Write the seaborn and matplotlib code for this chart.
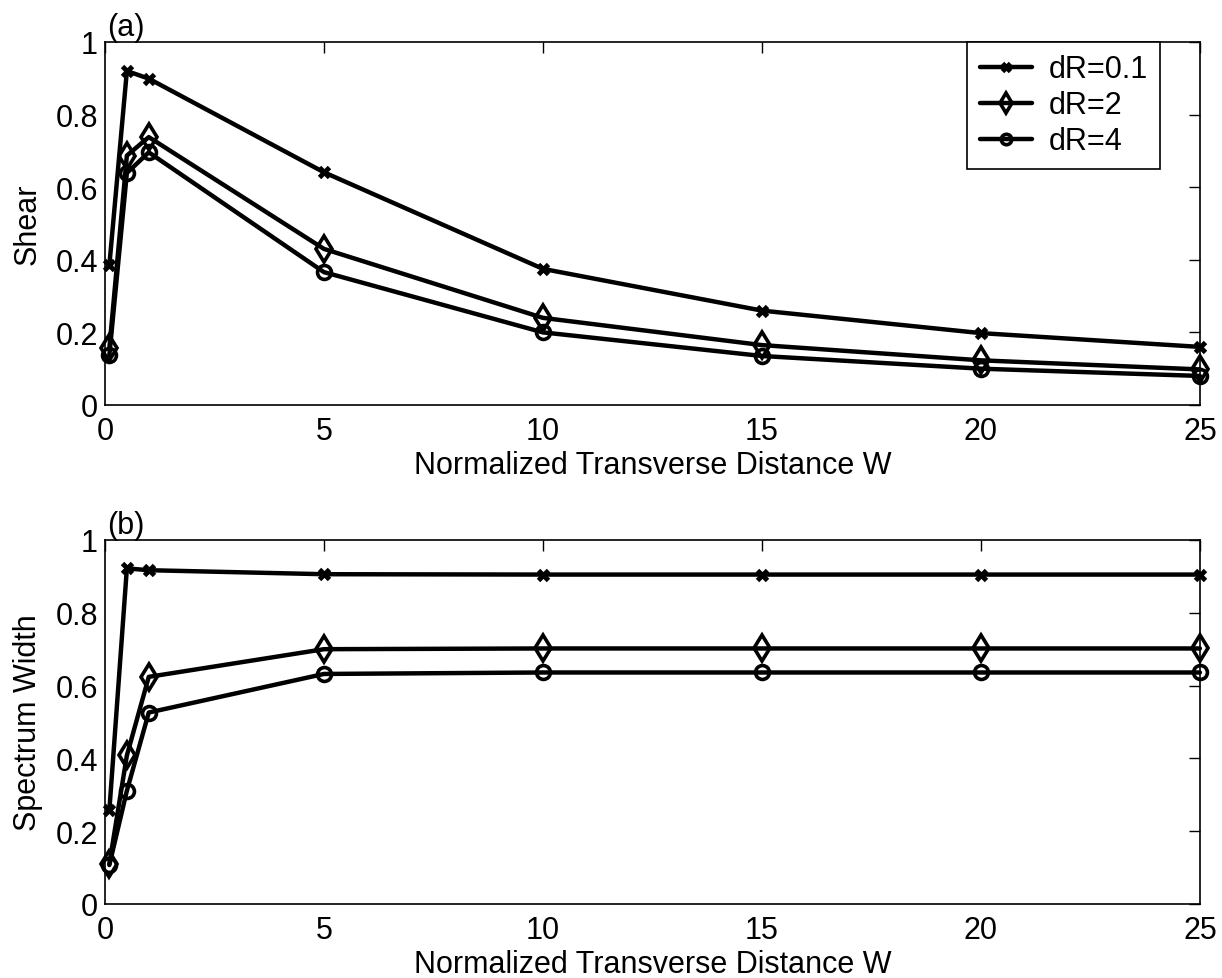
import matplotlib
matplotlib.use("Agg")
import matplotlib.pyplot as plt
import seaborn as sns
import pandas as pd

W = [0.1, 0.5, 1, 5, 10, 15, 20, 25]
labels = ["dR=0.1", "dR=2", "dR=4"]
shear_01 = [0.385, 0.92, 0.899, 0.641, 0.375, 0.26, 0.198, 0.16]
shear_2 = [0.156, 0.687, 0.738, 0.43, 0.24, 0.165, 0.123, 0.098]
shear_4 = [0.137, 0.639, 0.696, 0.366, 0.20, 0.135, 0.10, 0.08]
spec_01 = [0.257, 0.922, 0.917, 0.906, 0.905, 0.905, 0.905, 0.905]
spec_2 = [0.11, 0.408, 0.624, 0.70, 0.702, 0.702, 0.702, 0.702]
spec_4 = [0.107, 0.311, 0.526, 0.632, 0.636, 0.636, 0.636, 0.636]
xticks = [0, 5, 10, 15, 20, 25]
yticks = [0, 0.2, 0.4, 0.6, 0.8, 1]
ytick_labels = ["0", "0.2", "0.4", "0.6", "0.8", "1"]

sns.set_style("white")
plt.rcParams["font.family"] = ["Liberation Sans", "DejaVu Sans"]
for k in ["text.color", "axes.labelcolor", "xtick.color", "ytick.color", "axes.edgecolor"]:
    plt.rcParams[k] = "black"

FS = 22
fig = plt.figure(figsize=(12.22, 9.79), dpi=100)
ax1 = fig.add_axes([0.0859, 0.5853, 0.896, 0.3708])
ax2 = fig.add_axes([0.0859, 0.0756, 0.896, 0.3718])

markers = ["x", "d", "o"]
msizes = [7, 13, 10]
mews = [3.5, 2.6, 2.6]

def draw(ax, series, ylabel, tag):
    for vals, lab, m, ms, mew in zip(series, labels, markers, msizes, mews):
        df = pd.DataFrame({"W": W, "v": vals})
        sns.lineplot(data=df, x="W", y="v", ax=ax, color="black", linewidth=3.2,
                     marker=m, markersize=ms, markerfacecolor="none",
                     markeredgecolor="black", markeredgewidth=mew, label=lab,
                     legend=False, clip_on=False)
    ax.set_xlim(0, 25)
    ax.set_ylim(0, 1)
    ax.set_xticks(xticks)
    ax.set_xticklabels([str(t) for t in xticks])
    ax.set_yticks(yticks)
    ax.set_yticklabels(ytick_labels)
    ax.tick_params(axis="both", direction="in", length=8, width=1, top=True,
                   right=True, labelsize=FS, colors="black")
    ax.tick_params(axis="x", pad=8)
    ax.tick_params(axis="y", pad=5)
    for s in ax.spines.values():
        s.set_color("black")
        s.set_linewidth(1.2)
        s.set_visible(True)
    ax.set_xlabel("Normalized Transverse Distance W", fontsize=FS, labelpad=3)
    ax.set_ylabel(ylabel, fontsize=FS, labelpad=9)
    ax.text(0.002, 1.0, tag, transform=ax.transAxes, fontsize=FS,
            ha="left", va="bottom")

draw(ax1, [shear_01, shear_2, shear_4], "Shear", "(a)")
draw(ax2, [spec_01, spec_2, spec_4], "Spectrum Width", "(b)")

h, l = ax1.get_legend_handles_labels()
leg = ax1.legend(h, l, loc="upper right", bbox_to_anchor=(0.9635, 1.0),
                 fontsize=FS, frameon=True, fancybox=False, framealpha=1,
                 edgecolor="black", borderpad=0.4, labelspacing=0.2,
                 handlelength=1.7, handletextpad=0.55, borderaxespad=0,
                 markerscale=0.75)
leg.get_frame().set_linewidth(1.2)

fig.savefig("out.png", dpi=100)
